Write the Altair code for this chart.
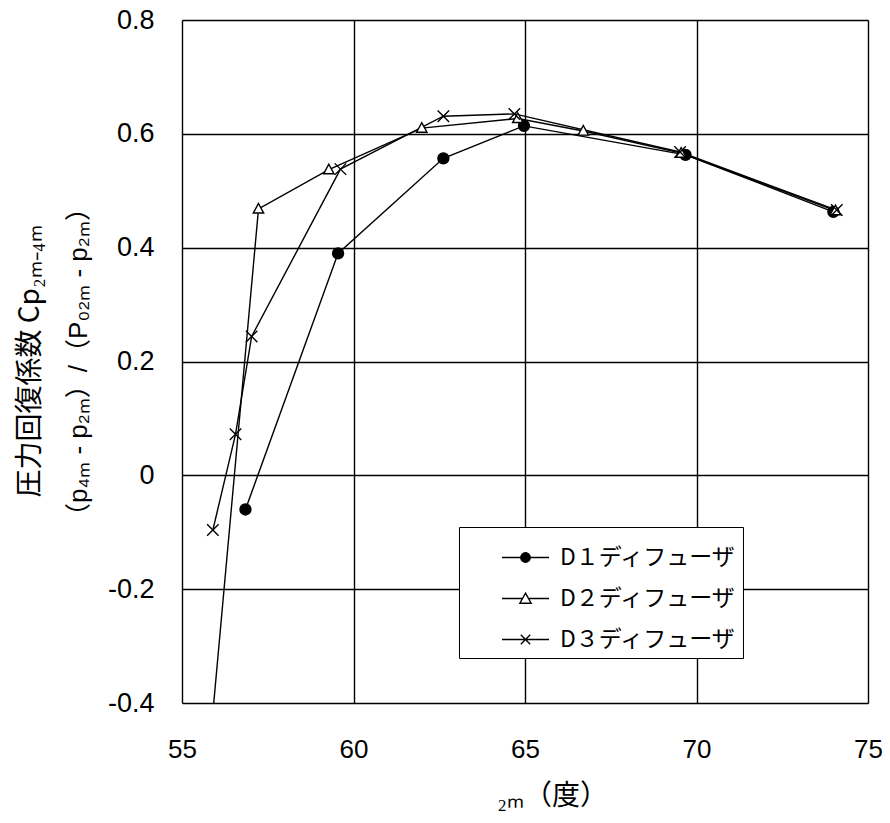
import altair as alt
import pandas as pd

SERIES = ["D１ディフューザ", "D２ディフューザ", "D３ディフューザ"]

D1_X = [56.85, 59.55, 62.62, 64.97, 69.68, 73.99]
D1_Y = [-0.06, 0.39, 0.557, 0.614, 0.563, 0.463]

D2_X = [55.7, 57.23, 59.28, 61.99, 64.79, 66.70, 69.55, 74.05]
D2_Y = [-0.55, 0.468, 0.537, 0.610, 0.627, 0.605, 0.566, 0.465]

D3_X = [55.90, 56.56, 57.03, 59.62, 62.62, 64.69, 69.52, 74.09]
D3_Y = [-0.096, 0.072, 0.244, 0.538, 0.631, 0.635, 0.568, 0.466]

X_TICKS = [55, 60, 65, 70, 75]
Y_TICKS = [-0.4, -0.2, 0, 0.2, 0.4, 0.6, 0.8]

rows = []
for name, xs, ys in zip(SERIES, [D1_X, D2_X, D3_X], [D1_Y, D2_Y, D3_Y]):
    for i, (xv, yv) in enumerate(zip(xs, ys)):
        rows.append({"series": name, "x": xv, "y": yv, "idx": i})
df = pd.DataFrame(rows)

# marker shapes (plot) and marker+line shapes (legend)
MARK_PATHS = [
    "circle",
    "M0,-1L0.95,0.75L-0.95,0.75Z",
    "M-1.05,-1.05L1.05,1.05M-1.05,1.05L1.05,-1.05",
]
LEG_PATHS = [
    "M-1,0L-0.2,0M0.2,0L1,0M-0.2,0A0.2,0.2,0,1,0,0.2,0A0.2,0.2,0,1,0,-0.2,0Z",
    "M-1,0L-0.13,0M0.13,0L1,0M0,-0.23L0.24,0.2L-0.24,0.2Z",
    "M-1,0L1,0M-0.2,-0.2L0.2,0.2M-0.2,0.2L0.2,-0.2",
]
FILLS = ["black", "white", "transparent"]

xscale = alt.Scale(domain=[55, 75], nice=False, zero=False)
yscale = alt.Scale(domain=[-0.4, 0.8], nice=False, zero=False)

xaxis = alt.Axis(
    values=X_TICKS, format="d", ticks=False, tickSize=0, domain=False,
    grid=True, gridColor="black", gridWidth=1.4, gridOpacity=1,
    labelFont="Liberation Sans", labelFontSize=26, labelColor="black",
    labelPadding=33, labelFlush=False,
    title="₂ₘ（度）", titleFont="Noto Sans CJK JP", titleFontSize=28,
    titleFontWeight="normal", titleColor="black", titlePadding=20,
    titleX=370, titleAlign="center",
)
yaxis = alt.Axis(
    values=Y_TICKS, ticks=False, tickSize=0, domain=False,
    grid=True, gridColor="black", gridWidth=1.4, gridOpacity=1,
    labelFont="Liberation Sans", labelFontSize=27, labelColor="black",
    labelPadding=28, labelFlush=False,
    labelExpr="datum.value == 0 ? '0' : replace(format(datum.value, '.1f'), '\u2212', '-')",
    title="（p₄ₘ - p₂ₘ）/（P₀₂ₘ - p₂ₘ）",
    titleFont="Liberation Sans, Noto Sans CJK JP", titleFontSize=26,
    titleFontWeight="normal", titleColor="black", titlePadding=16,
)

base = alt.Chart(df)

lines = base.mark_line(color="black", strokeWidth=1.4, clip=True).encode(
    x=alt.X("x:Q", scale=xscale, axis=xaxis),
    y=alt.Y("y:Q", scale=yscale, axis=yaxis),
    detail="series:N",
    order="idx:Q",
)

points = base.mark_point(stroke="black", strokeWidth=1.4, size=120, opacity=1,
                         filled=False, clip=True).encode(
    x=alt.X("x:Q", scale=xscale),
    y=alt.Y("y:Q", scale=yscale),
    shape=alt.Shape("series:N", scale=alt.Scale(domain=SERIES, range=MARK_PATHS), legend=None),
    fill=alt.Fill("series:N", scale=alt.Scale(domain=SERIES, range=FILLS), legend=None),
)

legend_layer = base.mark_point(size=0, opacity=1, filled=False, clip=True).encode(
    x=alt.X("x:Q", scale=xscale),
    y=alt.Y("y:Q", scale=yscale),
    stroke=alt.value("black"),
    strokeWidth=alt.value(1.4),
    shape=alt.Shape("series:N", scale=alt.Scale(domain=SERIES, range=LEG_PATHS),
                    legend=alt.Legend(
                        orient="none", legendX=277, legendY=507, title=None,
                        labelFont="Noto Sans CJK JP", labelFontSize=23, labelColor="black",
                        labelLimit=400,
                        symbolSize=2209, symbolStrokeWidth=1.4,
                        symbolOpacity=1, padding=6, symbolOffset=36, labelOffset=10,
                        rowPadding=4, strokeColor="black", fillColor="white",
                    )),
    fill=alt.Fill("series:N", scale=alt.Scale(domain=SERIES, range=FILLS), legend=None),
)

chart = alt.layer(lines, points, legend_layer).resolve_scale(
    shape="independent", fill="independent"
).properties(
    width=686, height=683,
    title=alt.TitleParams(
        text="圧力回復係数  Cp₂ₘ₋₄ₘ", orient="left", anchor="middle",
        font="Noto Sans CJK JP", fontSize=28, fontWeight="normal", color="black", offset=20,
    ),
    autosize=alt.AutoSizeParams(type="none"),
    padding={"left": 174, "top": 12, "right": 14, "bottom": 112},
).configure_view(stroke="black", strokeWidth=2).configure(background="white")

chart.save("out.html", embed_options={"renderer": "svg", "actions": False})
